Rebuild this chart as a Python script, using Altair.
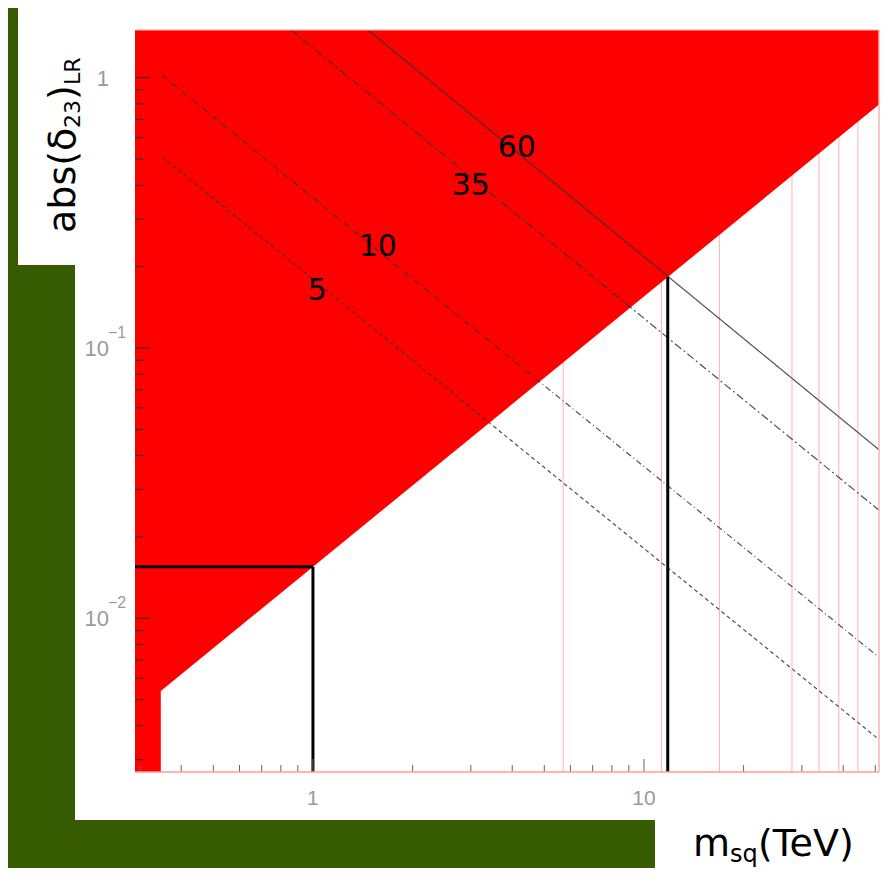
import altair as alt
import pandas as pd

# ---------------- data ----------------
x_domain = [0.29, 51.3]          # m_sq (TeV), log axis
y_domain = [0.0027, 1.5]         # abs(delta_23)_LR, log axis

# excluded (red) region: lower boundary, filled up to the top of the plot
excl_x = [0.29, 0.347, 0.347, 51.3]
excl_lower = [0.0027, 0.0027, 0.00538, 0.795]
excl_upper = [1.5, 1.5, 1.5, 1.5]

# tan(beta) contours
tanb_series = ["5", "10", "35", "60"]
tanb_x_start = [0.35, 0.35, 0.857, 1.467]
tanb_y_start = [0.51, 1.02, 1.5, 1.5]
tanb_x_end = [51.3, 51.3, 51.3, 51.3]
tanb_y_end = [0.00356, 0.00717, 0.0251, 0.042]
tanb_label_x = [1.03, 1.57, 3.0, 4.13]
tanb_label_y = [0.163, 0.237, 0.398, 0.55]

# thick black bound lines
bound_x1 = [0.29, 1.0, 11.8]
bound_x2 = [1.0, 1.0, 11.8]
bound_y1 = [0.0155, 0.0027, 0.0027]
bound_y2 = [0.0155, 0.0155, 0.183]

# faint pink vertical lines
grid_x = [5.7, 11.3, 16.9, 28, 33.8, 38.8, 44.3]

# ticks and labels
x_major = [1, 10]
x_minor = [0.3, 0.4, 0.5, 0.6, 0.7, 0.8, 0.9, 2, 3, 4, 5, 6, 7, 8, 9, 20, 30, 40, 50]
x_tick_labels = ["1", "10"]
y_major = [0.01, 0.1, 1]
y_minor = [0.003, 0.004, 0.005, 0.006, 0.007, 0.008, 0.009,
           0.02, 0.03, 0.04, 0.05, 0.06, 0.07, 0.08, 0.09,
           0.2, 0.3, 0.4, 0.5, 0.6, 0.7, 0.8, 0.9]
y_tick_base = ["10", "10", "1"]
y_tick_sup = ["\u22122", "\u22121", ""]

W, H = 744, 742
GREEN = "#365b00"
RED = "#ff0000"
PINK = "#ffb0b0"

xs = alt.Scale(type="log", domain=x_domain, nice=False)
ys = alt.Scale(type="log", domain=y_domain, nice=False)
one = alt.Data(values=[{"k": 1}])


def box(x1, x2, y1, y2, color="white"):
    return alt.Chart(one).mark_rect(color=color).encode(
        x=alt.value(x1), x2=alt.value(x2), y=alt.value(y1), y2=alt.value(y2))


def label(text, x, y, size, angle=0, font="DejaVu Sans", color="black"):
    return alt.Chart(one).mark_text(
        text=text, align="left", baseline="alphabetic", angle=angle,
        fontSize=size, font=font, color=color).encode(
        x=alt.value(x), y=alt.value(y))


panels = [
    box(-60, 900, -30, 790),
    box(-117, -60, -30, 235),
    box(520, 900, 790, 900),
]

grid = alt.Chart(pd.DataFrame({"x": grid_x})).mark_rule(
    color=PINK, strokeWidth=1).encode(
    x=alt.X("x:Q", scale=xs, axis=None), y=alt.value(0), y2=alt.value(H))

area = alt.Chart(pd.DataFrame({"x": excl_x, "lo": excl_lower, "hi": excl_upper})).mark_area(
    color=RED, opacity=1, clip=True).encode(
    x=alt.X("x:Q", scale=xs, axis=None),
    y=alt.Y("lo:Q", scale=ys, axis=None), y2="hi:Q")

rows = []
for s, xa, ya, xb, yb in zip(tanb_series, tanb_x_start, tanb_y_start, tanb_x_end, tanb_y_end):
    rows.append({"series": s, "x": xa, "y": ya, "o": 0})
    rows.append({"series": s, "x": xb, "y": yb, "o": 1})
lines = alt.Chart(pd.DataFrame(rows)).mark_line(
    color="#333333", strokeWidth=1.2, opacity=0.85, clip=True).encode(
    x=alt.X("x:Q", scale=xs, axis=None),
    y=alt.Y("y:Q", scale=ys, axis=None),
    order="o:Q",
    strokeDash=alt.StrokeDash("series:N", legend=None, scale=alt.Scale(
        domain=tanb_series, range=[[4, 3], [6, 3, 1, 3], [8, 3, 2, 3], [1, 0]])))

line_labels = alt.Chart(pd.DataFrame({"t": tanb_series, "x": tanb_label_x, "y": tanb_label_y})).mark_text(
    fontSize=30, font="DejaVu Sans", color="black", align="center", baseline="middle").encode(
    x=alt.X("x:Q", scale=xs, axis=None), y=alt.Y("y:Q", scale=ys, axis=None), text="t:N")

bounds = alt.Chart(pd.DataFrame({"x": bound_x1, "x2": bound_x2, "y": bound_y1, "y2": bound_y2})).mark_rule(
    color="black", strokeWidth=3).encode(
    x=alt.X("x:Q", scale=xs, axis=None), x2="x2:Q",
    y=alt.Y("y:Q", scale=ys, axis=None), y2="y2:Q")

xt_major = alt.Chart(pd.DataFrame({"v": x_major})).mark_rule(color="#666666", strokeWidth=1).encode(
    x=alt.X("v:Q", scale=xs, axis=None), y=alt.value(H), y2=alt.value(H - 13))
xt_minor = alt.Chart(pd.DataFrame({"v": x_minor})).mark_rule(color="#666666", strokeWidth=1).encode(
    x=alt.X("v:Q", scale=xs, axis=None), y=alt.value(H), y2=alt.value(H - 7))
yt_major = alt.Chart(pd.DataFrame({"v": y_major})).mark_rule(color="#333333", strokeWidth=1.2).encode(
    y=alt.Y("v:Q", scale=ys, axis=None), x=alt.value(0), x2=alt.value(15))
yt_minor = alt.Chart(pd.DataFrame({"v": y_minor})).mark_rule(color="#333333", strokeWidth=1.2).encode(
    y=alt.Y("v:Q", scale=ys, axis=None), x=alt.value(0), x2=alt.value(8))

border = alt.Chart(one).mark_rule(color="#ff9a9a", strokeWidth=1.5).encode(
    x=alt.value(0), x2=alt.value(W), y=alt.value(H))
border_r = alt.Chart(one).mark_rule(color="#ffb0b0", strokeWidth=1.5).encode(
    x=alt.value(W), y=alt.value(0), y2=alt.value(H))
border_t = alt.Chart(one).mark_rule(color="#ffb0b0", strokeWidth=1).encode(
    x=alt.value(0), x2=alt.value(W), y=alt.value(0))

xl = alt.Chart(pd.DataFrame({"v": x_major, "t": x_tick_labels})).mark_text(
    fontSize=21, font="Liberation Sans", color="#9a9a9a", align="center", baseline="alphabetic").encode(
    x=alt.X("v:Q", scale=xs, axis=None), y=alt.value(H + 33), text="t:N")
yl = alt.Chart(pd.DataFrame({"v": y_major, "t": y_tick_base})).mark_text(
    fontSize=22, font="Liberation Sans", color="#9a9a9a", align="right", baseline="alphabetic", dy=8).encode(
    y=alt.Y("v:Q", scale=ys, axis=None), x=alt.value(-26), text="t:N")
ysup = alt.Chart(pd.DataFrame({"v": y_major, "t": y_tick_sup})).mark_text(
    fontSize=16, font="Liberation Sans", color="#9a9a9a", align="left", baseline="alphabetic", dy=-10).encode(
    y=alt.Y("v:Q", scale=ys, axis=None), x=alt.value(-27), text="t:N")

titles = [
    label("abs(\u03b4", -60, 203, 38, angle=270),
    label("23", -55, 98, 22, angle=270),
    label(")", -60, 70, 38, angle=270),
    label("LR", -55, 55, 22, angle=270),
    label("m", 558, 826, 38),
    label("sq", 595, 832, 24),
    label("(TeV)", 623, 826, 38),
]

chart = alt.layer(
    *panels, grid, area, lines, bounds, line_labels,
    xt_major, xt_minor, yt_major, yt_minor, border, border_r, border_t,
    xl, yl, ysup, *titles
).properties(
    width=W, height=H,
    autosize=alt.AutoSizeParams(type="none"),
    padding={"left": 127, "top": 22, "right": 8, "bottom": 96},
    background=GREEN,
).configure_view(stroke=None)

chart.save("out.html", embed_options={"renderer": "svg", "actions": False})
